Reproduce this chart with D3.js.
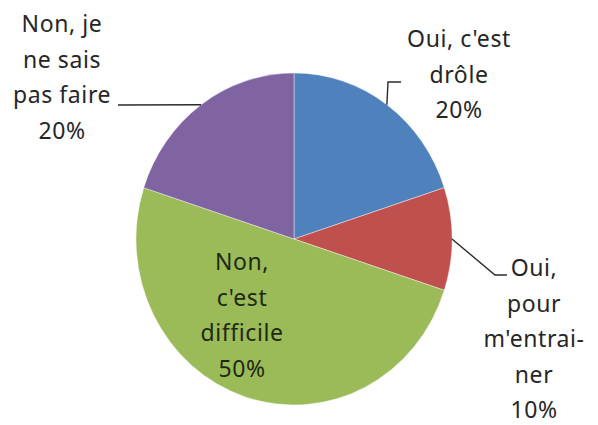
<!DOCTYPE html>
<html>
<head>
<meta charset="utf-8">
<script src="https://cdn.jsdelivr.net/npm/d3@7"></script>
<style>
html,body{margin:0;padding:0;background:#fff;}
svg{display:block;}
</style>
</head>
<body>
<svg id="chart" width="598" height="425"></svg>
<script>
// ---- data ----
const categories = ["Oui, c'est drôle", "Oui, pour m'entrainer", "Non, c'est difficile", "Non, je ne sais pas faire"];
const values = [20, 10, 50, 20];
const labelLines = [
  ["Oui, c'est", "drôle", "20%"],
  ["Oui,", "pour", "m'entrai-", "ner", "10%"],
  ["Non,", "c'est", "difficile", "50%"],
  ["Non, je", "ne sais", "pas faire", "20%"]
];
const colors = ["#4F81BD", "#C0504D", "#9BBB59", "#8064A2"];

// ---- layout ----
const W = 598, H = 425;
const cx = 294, cy = 239, rx = 158, ry = 166;
const lineH = 35.5;
// label block: centre x, first baseline y, leader path anchor (end of label side)
const labelLayout = [
  {x: 459, y: 47, leader: [[401, 82], [388, 82]]},
  {x: 534, y: 276, leader: [[507, 275], [495, 275]]},
  {x: 242, y: 270, leader: null},
  {x: 62, y: 32, leader: [[118, 105], [118, 105]]}
];

const svg = d3.select("#chart");
const pie = d3.pie().sort(null).value(d => d)(values);
const arc = d3.arc().innerRadius(0).outerRadius(rx);

const g = svg.append("g")
  .attr("transform", `translate(${cx},${cy}) scale(1,${ry / rx})`);

g.selectAll("path.slice")
  .data(pie)
  .join("path")
  .attr("class", "slice")
  .attr("d", arc)
  .attr("fill", (d, i) => colors[i])
  .attr("stroke", "#ffffff")
  .attr("stroke-opacity", 0.5)
  .attr("stroke-width", 0.8);

// leader lines: from label side to slice edge at mid angle
pie.forEach((d, i) => {
  const L = labelLayout[i];
  if (!L.leader) return;
  const mid = (d.startAngle + d.endAngle) / 2;
  const ex = cx + rx * Math.sin(mid);
  const ey = cy - ry * Math.cos(mid);
  const pts = L.leader.concat([[ex, ey]]);
  svg.append("path")
    .attr("d", d3.line()(pts))
    .attr("fill", "none")
    .attr("stroke", "#2b2b2b")
    .attr("stroke-width", 1.4);
});

// labels
labelLines.forEach((lines, i) => {
  const L = labelLayout[i];
  const t = svg.append("text")
    .attr("text-anchor", "middle")
    .attr("font-family", "'Noto Sans', 'Open Sans', sans-serif")
    .attr("font-size", 23)
    .attr("letter-spacing", 0.6)
    .attr("fill", i === 2 ? "#1e2a10" : "#262626");
  lines.forEach((s, k) => {
    t.append("tspan")
      .attr("x", L.x)
      .attr("y", L.y + k * lineH)
      .text(s);
  });
});
</script>
</body>
</html>
